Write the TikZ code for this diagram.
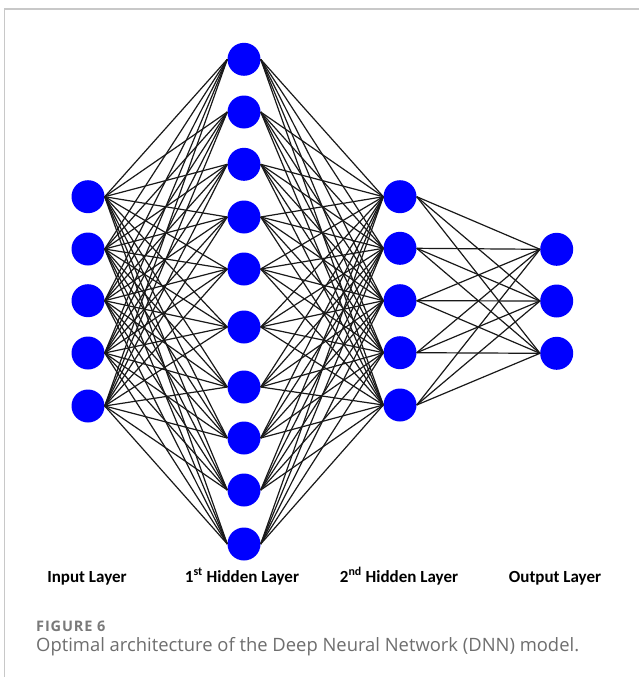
\documentclass[tikz,border=0pt]{standalone}
\usepackage{fontspec}
\setmainfont{Carlito}
\newfontfamily\capfont{Open Sans}
\newfontfamily\figfont[LetterSpace=6]{Open Sans}
\definecolor{framegray}{HTML}{C8C8C8}
\definecolor{capgray}{HTML}{6E6E6E}
\definecolor{figgray}{HTML}{7A7A7A}
\begin{document}
\begin{tikzpicture}[x=1pt,y=-1pt,
  neuron/.style={circle, fill=blue, draw=none, inner sep=0pt, minimum size=33pt},
  conn/.style={draw=black!90, line width=1.2pt},
  lbl/.style={font=\bfseries\fontsize{17}{20}\selectfont, anchor=base, inner sep=0pt},
  frameline/.style={draw=framegray, line width=1.5pt}]
\useasboundingbox (0,0) rectangle (639,677);
\fill[white] (0,0) rectangle (639,677);
% frame
\coordinate (fl) at (4.5,677);
\coordinate (fc) at (4.5,8.8);
\coordinate (fr) at (639,8.8);
\draw[frameline] (fl) -- (fc) -- (fr);
% neurons
\foreach \y [count=\i] in {196.7,249,300.7,353,406}
  \node[neuron] (i\i) at (88,\y) {};
\foreach \y [count=\i] in {59.3,112,164.3,217,269,327,387,438,490,544}
  \node[neuron] (h\i) at (244,\y) {};
\foreach \y [count=\i] in {196.7,248.3,300.7,352.7,405}
  \node[neuron] (g\i) at (400,\y) {};
\foreach \y [count=\i] in {249.3,301,353.3}
  \node[neuron] (o\i) at (556.7,\y) {};
% connections
\foreach \a in {1,...,5}
  \foreach \b in {1,...,10}
    \draw[conn] (i\a.east) -- (h\b.west);
\foreach \a in {1,...,10}
  \foreach \b in {1,...,5}
    \draw[conn] (h\a.east) -- (g\b.west);
\foreach \a in {1,...,5}
  \foreach \b in {1,...,3}
    \draw[conn] (g\a.east) -- (o\b.west);
% labels
\node[lbl] (l1) at (87,582) {Input Layer};
\node[lbl] (l2) at (242,582) {1\textsuperscript{st} Hidden Layer};
\node[lbl] (l3) at (399,582) {2\textsuperscript{nd} Hidden Layer};
\node[lbl] (l4) at (555,582) {Output Layer};
% caption
\node[anchor=base west, inner sep=0pt, text=figgray, font=\figfont\bfseries\fontsize{14.5}{16}\selectfont] (fig) at (36,631.5) {FIGURE 6};
\node[anchor=base west, inner sep=0pt, text=capgray, font=\capfont\fontsize{18.4}{22}\selectfont] (cap) at (36,651.5) {Optimal architecture of the Deep Neural Network (DNN) model.};
\end{tikzpicture}
\end{document}
